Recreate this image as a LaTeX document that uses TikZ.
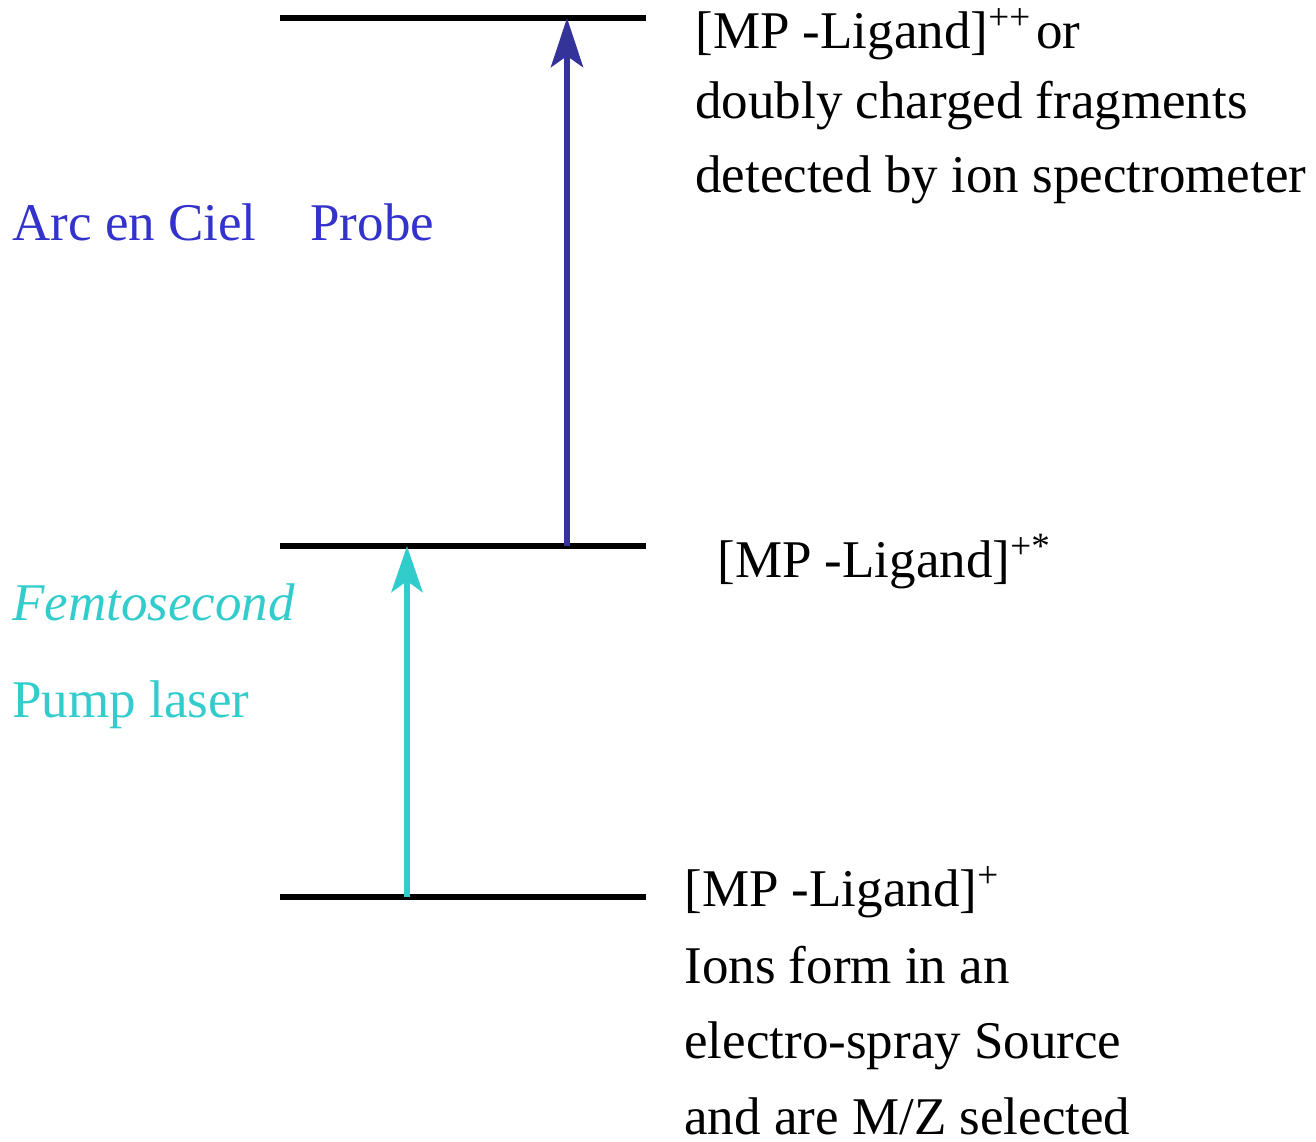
\documentclass[tikz,border=0pt]{standalone}
\usepackage{fontspec}
\setmainfont{Liberation Serif}
\usetikzlibrary{arrows.meta}
\definecolor{probeblue}{HTML}{3333CC}
\definecolor{arrowblue}{HTML}{333399}
\definecolor{pumpcyan}{HTML}{33CCCC}
\tikzset{
  level/.style={line width=3pt, black},
  lbl/.style={inner sep=0pt, anchor=base west, font=\fontsize{26.5}{30}\selectfont},
  probearrow/.style={line width=3.2pt, arrowblue, -{Stealth[length=24.5pt, width=16pt, inset=5.5pt]}},
  pumparrow/.style={line width=3.2pt, pumpcyan, -{Stealth[length=23pt, width=15.5pt, inset=5.5pt]}},
}
\begin{document}
\begin{tikzpicture}[x=0.5pt, y=-0.5pt]
\useasboundingbox (0,0) rectangle (1316,1141);
% levels
\coordinate (tL) at (280,17.5); \coordinate (tR) at (646,17.5);
\coordinate (mL) at (280,545.5); \coordinate (mR) at (646,545.5);
\coordinate (bL) at (280,897); \coordinate (bR) at (646,897);
\draw[level] (tL) -- (tR);
\draw[level] (mL) -- (mR);
\draw[level] (bL) -- (bR);
% arrows
\coordinate (pb0) at (567,545.5); \coordinate (pb1) at (567,18);
\coordinate (pu0) at (407,897); \coordinate (pu1) at (407,546);
\draw[probearrow] (pb0) -- (pb1);
\draw[pumparrow] (pu0) -- (pu1);
% right labels
\node[lbl] (t1) at (695,48) {[MP -Ligand]\textsuperscript{++}\hspace{-0.15em} or};
\node[lbl] (t2) at (695,118) {doubly charged fragments};
\node[lbl] (t3) at (695,192) {detected by ion spectrometer};
\node[lbl] (m1) at (717,577) {[MP -Ligand]\textsuperscript{+*}};
\node[lbl] (b1) at (684,906) {[MP -Ligand]\textsuperscript{+}};
\node[lbl] (b2) at (684,983) {Ions form in an};
\node[lbl] (b3) at (684,1058) {electro-spray Source};
\node[lbl] (b4) at (684,1134) {and are M/Z selected};
% left labels
\node[lbl, text=probeblue] (arc) at (12,240) {Arc en Ciel};
\node[lbl, text=probeblue] (probe) at (310,240) {Probe};
\node[lbl, text=pumpcyan] (femto) at (12,620) {\itshape Femtosecond};
\node[lbl, text=pumpcyan] (pump) at (12,717) {Pump laser};
\end{tikzpicture}
\end{document}
